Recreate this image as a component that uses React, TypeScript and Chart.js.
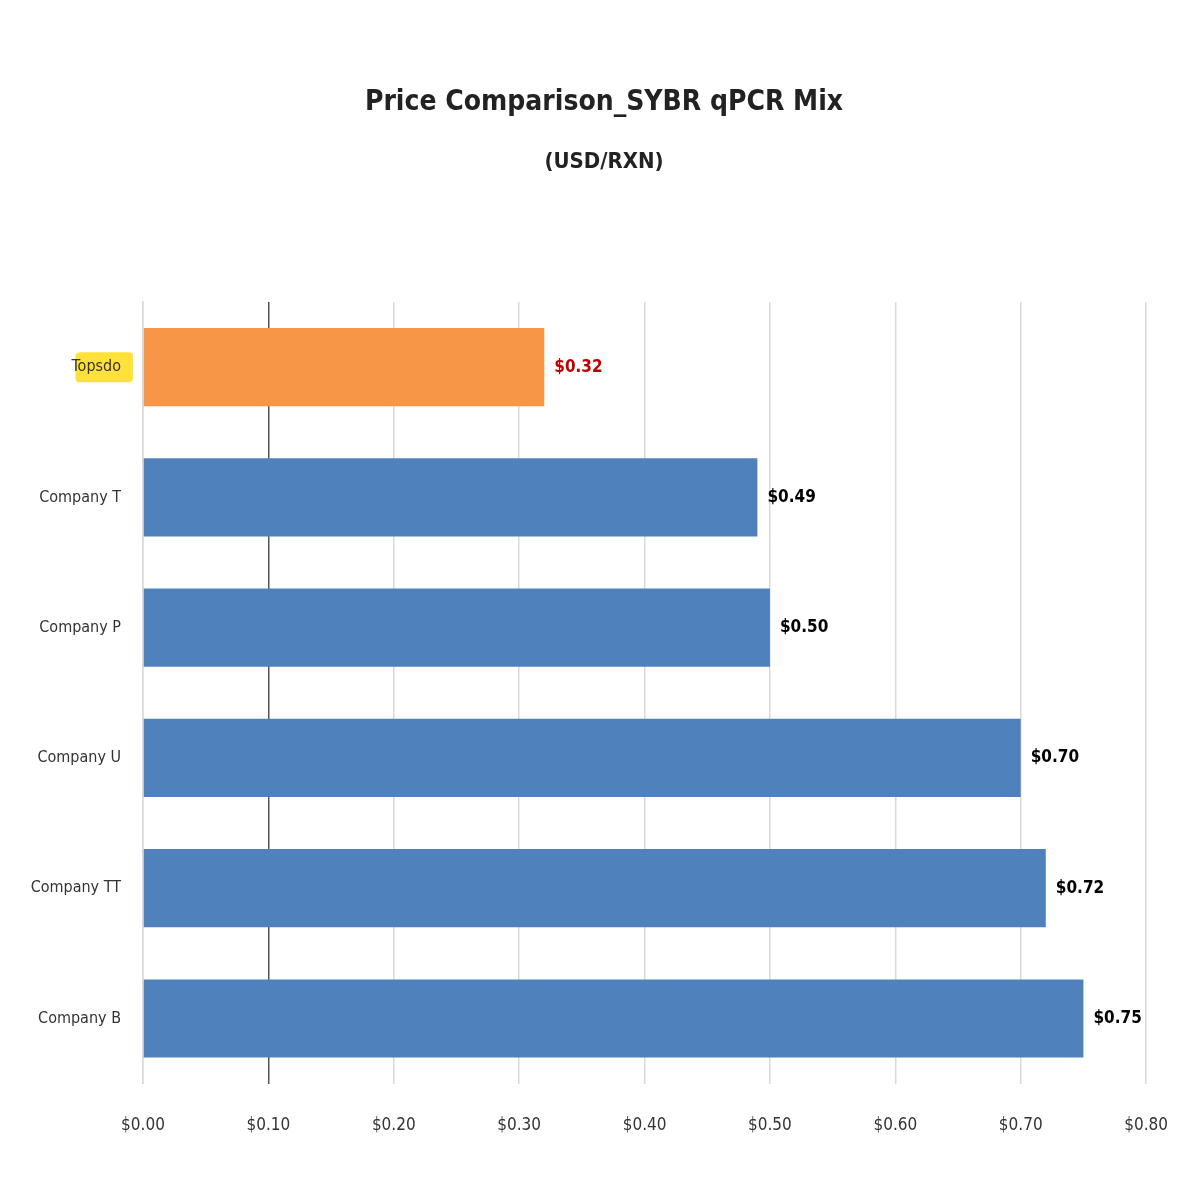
import React, { useEffect, useRef } from "react";
import { Chart, registerables } from "chart.js";

Chart.register(...registerables);

const categories = ["Topsdo", "Company T", "Company P", "Company U", "Company TT", "Company B"];
const prices = [0.32, 0.49, 0.5, 0.7, 0.72, 0.75];
const barColors = ["#F79646", "#4F81BD", "#4F81BD", "#4F81BD", "#4F81BD", "#4F81BD"];
const valueLabelColors = ["#C00000", "#000000", "#000000", "#000000", "#000000", "#000000"];
const titleText = "Price Comparison_SYBR qPCR Mix";
const subtitleText = "(USD/RXN)";

const FONT = "'Liberation Sans Narrow', 'DejaVu Sans Condensed', sans-serif";

const valueLabelPlugin = {
  id: "valueLabels",
  afterDatasetsDraw(chart: any) {
    const ctx = chart.ctx;
    const meta = chart.getDatasetMeta(0);
    ctx.save();
    ctx.font = `bold 17px ${FONT}`;
    ctx.textBaseline = "middle";
    ctx.textAlign = "left";
    meta.data.forEach((bar: any, i: number) => {
      ctx.fillStyle = valueLabelColors[i];
      ctx.fillText("$" + prices[i].toFixed(2), bar.x + 10, bar.y);
    });
    ctx.restore();
  },
};

const titlePlugin = {
  id: "customTitles",
  afterDraw(chart: any) {
    const ctx = chart.ctx;
    ctx.save();
    ctx.fillStyle = "#222";
    ctx.textAlign = "center";
    ctx.textBaseline = "middle";
    ctx.font = `bold 28px ${FONT}`;
    ctx.fillText(titleText, 604, 103);
    ctx.font = `bold 22px ${FONT}`;
    ctx.fillText(subtitleText, 604, 162);
    ctx.restore();
  },
};

const highlightPlugin = {
  id: "highlightFirst",
  beforeDraw(chart: any) {
    const y = chart.scales.y;
    const ctx = chart.ctx;
    const cy = y.getPixelForTick(0);
    ctx.save();
    ctx.font = `16px ${FONT}`;
    const w = ctx.measureText(categories[0]).width;
    const right = y.right - 14;
    ctx.fillStyle = "#FFE13A";
    const h = 30;
    const x0 = right - w - 4;
    ctx.beginPath();
    ctx.roundRect(x0, cy - h / 2, w + 8, h, 4);
    ctx.fill();
    ctx.restore();
  },
};

export default function App() {
  const ref = useRef<HTMLCanvasElement>(null);
  useEffect(() => {
    document.body.style.margin = "0";
    const chart = new Chart(ref.current!, {
      type: "bar",
      data: {
        labels: categories,
        datasets: [
          {
            data: prices,
            backgroundColor: barColors,
            categoryPercentage: 0.6,
            barPercentage: 1,
          },
        ],
      },
      plugins: [valueLabelPlugin, highlightPlugin, titlePlugin],
      options: {
        indexAxis: "y",
        animation: false,
        responsive: false,
        layout: { padding: { top: 302, right: 51, bottom: 32, left: 0 } },
        plugins: {
          legend: { display: false },
          tooltip: { enabled: false },
          title: { display: false },
        },
        scales: {
          x: {
            min: 0,
            max: 0.8,
            ticks: {
              stepSize: 0.1,
              color: "#333",
              padding: 32,
              font: { family: FONT, size: 17 },
              callback: (v: any) => "$" + Number(v).toFixed(2),
            },
            grid: {
              color: (c: any) => (c.tick && Math.abs(c.tick.value - 0.1) < 1e-6 ? "#555555" : "#D9D9D9"),
              lineWidth: 1.5,
              drawTicks: false,
            },
            border: { display: false },
          },
          y: {
            afterFit: (s: any) => {
              s.width = 143;
            },
            ticks: {
              color: "#333",
              padding: 14,
              font: { family: FONT, size: 16 },
            },
            grid: { display: false },
            border: { display: true, color: "#D9D9D9", width: 1.5 },
          },
        },
      },
    });
    return () => chart.destroy();
  }, []);
  return (
    <div style={{ width: 1200, height: 1200, background: "#fff" }}>
      <canvas ref={ref} width={1200} height={1200} />
    </div>
  );
}
